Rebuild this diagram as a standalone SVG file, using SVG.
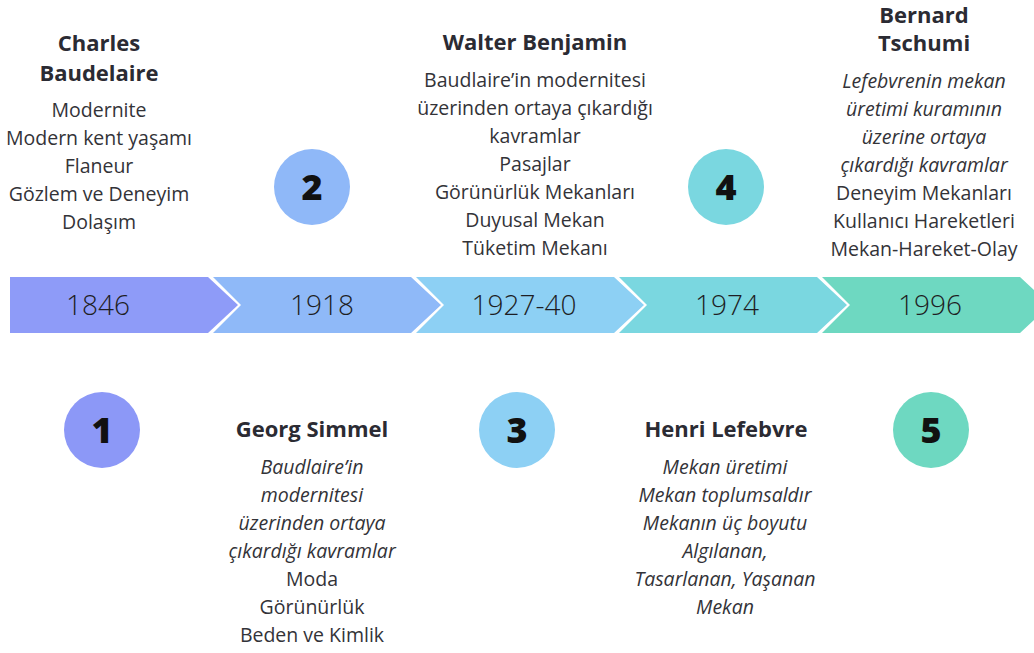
<svg xmlns="http://www.w3.org/2000/svg" width="1034" height="653" viewBox="0 0 1034 653">
<style>
.t{font-family:"Open Sans","Lato",sans-serif;text-anchor:middle;fill:#333338}
.h{font-size:22px;font-weight:700;fill:#2b2b33}
.b{font-size:19.5px}
.i{font-size:19.5px;font-style:italic}
.y{font-family:"Open Sans","Lato",sans-serif;text-anchor:middle;font-size:28px;font-weight:300;fill:#1e1e24}
.n{font-family:"Open Sans","Lato",sans-serif;text-anchor:middle;font-size:36px;font-weight:800;fill:#111}
</style>
<rect width="1034" height="653" fill="#ffffff"/>
<g id="connectors">
<polygon id="seg1" points="10,277 208,277 238,305 208,333 10,333" fill="#8e9bf8"/>
<polygon id="seg2" points="213,277 411,277 441,305 411,333 213,333 241,305" fill="#8fb9f8"/>
<polygon id="seg3" points="416,277 614,277 644,305 614,333 416,333 444,305" fill="#8dd0f4"/>
<polygon id="seg4" points="619,277 817,277 847,305 817,333 619,333 647,305" fill="#7ad7e0"/>
<polygon id="seg5" points="822,277 1020,277 1050,305 1020,333 822,333 850,305" fill="#6ed8c1"/>
</g>
<g id="years">
<text class="y" x="98" y="315">1846</text>
<text class="y" x="322" y="315">1918</text>
<text class="y" x="524" y="315">1927-40</text>
<text class="y" x="727" y="315">1974</text>
<text class="y" x="930" y="315">1996</text>
</g>
<g id="node1">
<circle cx="102" cy="430" r="38" fill="#8c98f7"/>
<text class="n" x="102" y="443">1</text>
<text class="t h" x="99" y="51">Charles</text>
<text class="t h" x="99" y="81">Baudelaire</text>
<text class="t b" x="99" y="117">Modernite</text>
<text class="t b" x="99" y="145">Modern kent yaşamı</text>
<text class="t b" x="99" y="173">Flaneur</text>
<text class="t b" x="99" y="201">Gözlem ve Deneyim</text>
<text class="t b" x="99" y="229">Dolaşım</text>
</g>
<g id="node2">
<circle cx="312" cy="187" r="38" fill="#8fb8f8"/>
<text class="n" x="312" y="200">2</text>
<text class="t h" x="312" y="437">Georg Simmel</text>
<text class="t i" x="312" y="474">Baudlaire’in</text>
<text class="t i" x="312" y="502">modernitesi</text>
<text class="t i" x="312" y="530">üzerinden ortaya</text>
<text class="t i" x="312" y="558">çıkardığı kavramlar</text>
<text class="t b" x="312" y="586">Moda</text>
<text class="t b" x="312" y="614">Görünürlük</text>
<text class="t b" x="312" y="642">Beden ve Kimlik</text>
</g>
<g id="node3">
<circle cx="517" cy="430" r="38" fill="#8dd0f4"/>
<text class="n" x="517" y="443">3</text>
<text class="t h" x="535" y="50">Walter Benjamin</text>
<text class="t b" x="535" y="87">Baudlaire’in modernitesi</text>
<text class="t b" x="535" y="115">üzerinden ortaya çıkardığı</text>
<text class="t b" x="535" y="143">kavramlar</text>
<text class="t b" x="535" y="171">Pasajlar</text>
<text class="t b" x="535" y="199">Görünürlük Mekanları</text>
<text class="t b" x="535" y="227">Duyusal Mekan</text>
<text class="t b" x="535" y="255">Tüketim Mekanı</text>
</g>
<g id="node4">
<circle cx="726" cy="187" r="38" fill="#7ad7e0"/>
<text class="n" x="726" y="200">4</text>
<text class="t h" x="726" y="437">Henri Lefebvre</text>
<text class="t i" x="725" y="474">Mekan üretimi</text>
<text class="t i" x="725" y="502">Mekan toplumsaldır</text>
<text class="t i" x="725" y="530">Mekanın üç boyutu</text>
<text class="t i" x="725" y="558">Algılanan,</text>
<text class="t i" x="725" y="586">Tasarlanan, Yaşanan</text>
<text class="t i" x="725" y="614">Mekan</text>
</g>
<g id="node5">
<circle cx="931" cy="430" r="38" fill="#6ed8c1"/>
<text class="n" x="931" y="443">5</text>
<text class="t h" x="924" y="23">Bernard</text>
<text class="t h" x="924" y="51">Tschumi</text>
<text class="t i" x="924" y="88">Lefebvrenin mekan</text>
<text class="t i" x="924" y="116">üretimi kuramının</text>
<text class="t i" x="924" y="144">üzerine ortaya</text>
<text class="t i" x="924" y="172">çıkardığı kavramlar</text>
<text class="t b" x="924" y="200">Deneyim Mekanları</text>
<text class="t b" x="924" y="228">Kullanıcı Hareketleri</text>
<text class="t b" x="924" y="256">Mekan-Hareket-Olay</text>
</g>
</svg>
